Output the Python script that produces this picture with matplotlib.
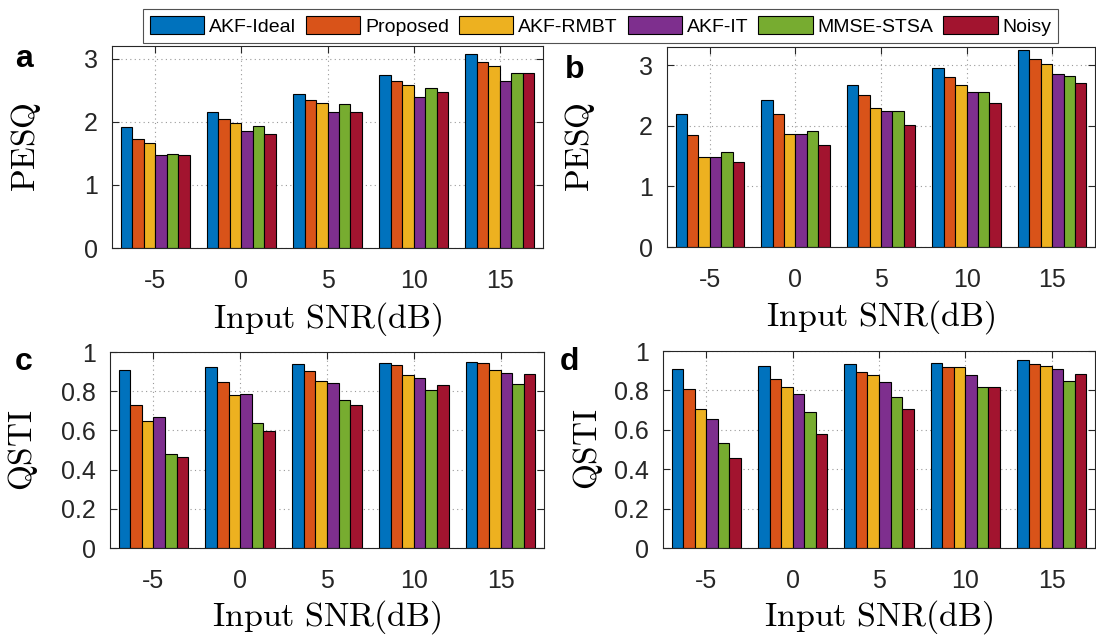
import numpy as np
import matplotlib
matplotlib.use('Agg')
import matplotlib.pyplot as plt
from matplotlib.patches import Patch

plt.rcParams['font.family'] = ['Liberation Sans', 'DejaVu Sans']
plt.rcParams['mathtext.fontset'] = 'cm'

snr_labels = ['-5', '0', '5', '10', '15']
methods = ['AKF-Ideal', 'Proposed', 'AKF-RMBT', 'AKF-IT', 'MMSE-STSA', 'Noisy']
colors = ['#0072BD', '#D95319', '#EDB120', '#7E2F8E', '#77AC30', '#A2142F']

# rows = SNR groups, columns = methods
pesq_a = [[1.92, 1.72, 1.66, 1.48, 1.49, 1.48],
          [2.16, 2.04, 1.98, 1.85, 1.93, 1.81],
          [2.44, 2.35, 2.30, 2.15, 2.28, 2.15],
          [2.74, 2.65, 2.59, 2.40, 2.54, 2.47],
          [3.08, 2.95, 2.89, 2.64, 2.78, 2.78]]
pesq_b = [[2.20, 1.85, 1.48, 1.48, 1.56, 1.40],
          [2.42, 2.19, 1.86, 1.87, 1.91, 1.69],
          [2.68, 2.50, 2.29, 2.24, 2.25, 2.02],
          [2.96, 2.81, 2.67, 2.56, 2.55, 2.37],
          [3.25, 3.10, 3.02, 2.86, 2.82, 2.70]]
qsti_c = [[0.906, 0.730, 0.649, 0.669, 0.480, 0.466],
          [0.924, 0.846, 0.783, 0.786, 0.637, 0.597],
          [0.938, 0.902, 0.851, 0.843, 0.756, 0.730],
          [0.945, 0.936, 0.885, 0.868, 0.807, 0.831],
          [0.951, 0.945, 0.909, 0.892, 0.839, 0.887]]
qsti_d = [[0.909, 0.809, 0.707, 0.656, 0.531, 0.457],
          [0.926, 0.860, 0.815, 0.784, 0.688, 0.577],
          [0.936, 0.892, 0.879, 0.843, 0.769, 0.705],
          [0.941, 0.919, 0.917, 0.877, 0.815, 0.818],
          [0.956, 0.934, 0.924, 0.909, 0.848, 0.884]]

W, H = 1096, 635
fig = plt.figure(figsize=(W / 100, H / 100), dpi=100)


def px_axes(l, r, t, b):
    return fig.add_axes([l / W, 1 - b / H, (r - l) / W, (b - t) / H])


def panel(ax, data, ylim, yticks, yticklabels, ylabel, ylab_x):
    data = np.array(data)
    n = data.shape[1]
    w = 0.8 / n
    x = np.arange(1, data.shape[0] + 1)
    for j in range(n):
        ax.bar(x + (j - (n - 1) / 2) * w, data[:, j], width=w, color=colors[j],
               edgecolor='black', linewidth=0.8)
    ax.set_xlim(0.5, 5.5)
    ax.set_ylim(*ylim)
    ax.set_xticks(x)
    ax.set_xticklabels(snr_labels)
    ax.set_yticks(yticks)
    ax.set_yticklabels(yticklabels)
    ax.set_axisbelow(True)
    ax.grid(True, linestyle=(0, (1, 3)), color='#999999', linewidth=0.8)
    ax.tick_params(direction='in', top=True, right=True, length=5, width=0.8,
                   labelsize=18, colors='#262626')
    ax.tick_params(axis='x', pad=15)
    ax.tick_params(axis='y', pad=10)
    for s in ax.spines.values():
        s.set_color('#262626')
        s.set_linewidth(0.8)
    ax.set_xlabel(r'$\mathrm{Input\ SNR(dB)}$', fontsize=24.5, va='center')
    ax.xaxis.set_label_coords(0.5, -0.35)
    ax.set_ylabel(r'$\mathrm{%s}$' % ylabel, fontsize=24, va='center')
    ax.yaxis.set_label_coords(ylab_x, 0.5)


ax_a = px_axes(112, 543, 46, 248)
panel(ax_a, pesq_a, (0, 3.2), [0, 1, 2, 3], ['0', '1', '2', '3'], 'PESQ', -0.2)
ax_b = px_axes(667, 1095, 47, 247)
panel(ax_b, pesq_b, (0, 3.3), [0, 1, 2, 3], ['0', '1', '2', '3'], 'PESQ', -0.203)
qt = [0, 0.2, 0.4, 0.6, 0.8, 1.0]
ql = ['0', '0.2', '0.4', '0.6', '0.8', '1']
ax_c = px_axes(110, 544, 352, 548)
panel(ax_c, qsti_c, (0, 1), qt, ql, 'QSTI', -0.2)
ax_d = px_axes(663, 1095, 351, 548)
panel(ax_d, qsti_d, (0, 1), qt, ql, 'QSTI', -0.174)

# panel letters
for lab, xp, yp in [('a', 15, 67), ('b', 565, 78), ('c', 15, 370), ('d', 560, 370)]:
    fig.text(xp / W, 1 - yp / H, lab, fontsize=23, fontweight='bold',
             ha='left', va='baseline')

handles = [Patch(facecolor=c, edgecolor='black', linewidth=0.8) for c in colors]
leg = fig.legend(handles, methods, ncol=6, loc='upper left',
                 bbox_to_anchor=(143 / W, 1 - 9 / H), fontsize=14,
                 frameon=True, fancybox=False, edgecolor='#262626',
                 handlelength=2.8, handleheight=1.1, handletextpad=0.25,
                 columnspacing=0.5, borderpad=0.35, borderaxespad=0)
leg.get_frame().set_linewidth(0.8)

fig.savefig('out.png', dpi=100)
